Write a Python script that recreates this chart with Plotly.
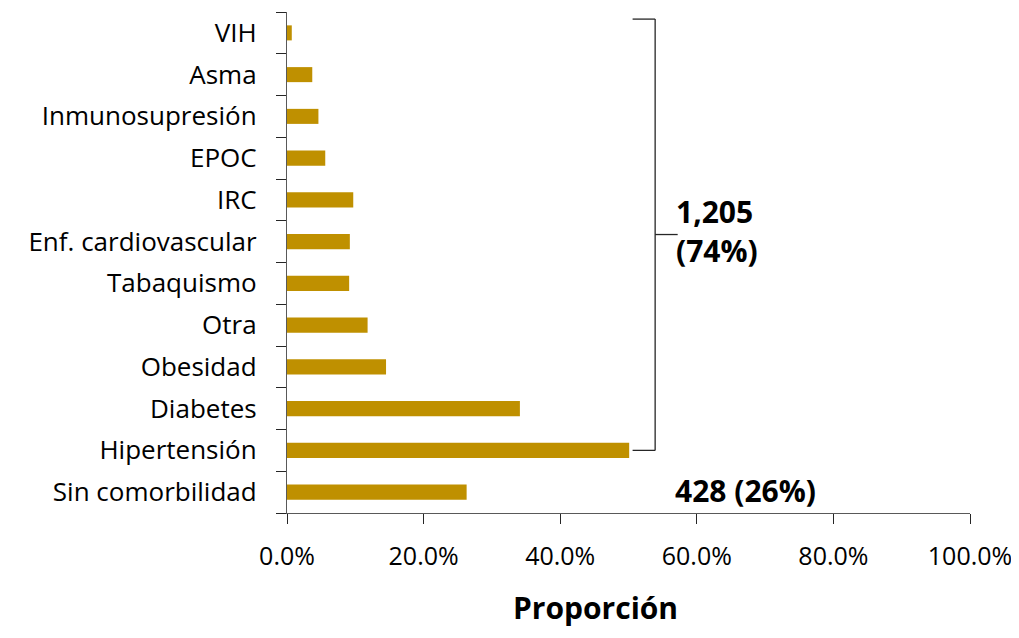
import plotly.graph_objects as go

# Comorbilidades (de abajo hacia arriba)
categorias = [
    "Sin comorbilidad", "Hipertensión", "Diabetes", "Obesidad", "Otra",
    "Tabaquismo", "Enf. cardiovascular", "IRC", "EPOC", "Inmunosupresión",
    "Asma", "VIH",
]
proporcion = [0.263, 0.501, 0.341, 0.145, 0.118, 0.091, 0.092, 0.097,
              0.056, 0.046, 0.037, 0.007]

texto_con = "1,205<br>(74%)"
texto_sin = "428 (26%)"

FUENTE = "'Open Sans', Lato, sans-serif"
DORADO = "#BF9000"

# la página tiene 8px de margen en el body
W, H = 1011, 622
ML, MR, MT, MB = 279, 49, 4, 117

fig = go.Figure()
fig.add_trace(go.Bar(
    y=categorias,
    x=proporcion,
    orientation="h",
    marker=dict(color=DORADO, line=dict(width=0)),
    width=0.36,
    hoverinfo="x+y",
))

# corchete que agrupa las comorbilidades
linea = dict(color="#262626", width=1.3)
fig.add_shape(type="line", xref="x", yref="y", x0=0.506, x1=0.539, y0=1, y1=1, line=linea)
fig.add_shape(type="line", xref="x", yref="y", x0=0.506, x1=0.539, y0=11.33, y1=11.33, line=linea)
fig.add_shape(type="line", xref="x", yref="y", x0=0.539, x1=0.539, y0=1, y1=11.33, line=linea)
fig.add_shape(type="line", xref="x", yref="y", x0=0.539, x1=0.572, y0=6.17, y1=6.17, line=linea)

fig.add_annotation(x=0.567, y=6.25, xref="x", yref="y", text=texto_con,
                   showarrow=False, xanchor="left", yanchor="middle", align="left",
                   font=dict(family=FUENTE, size=30, color="#000000", weight="bold"))
fig.add_annotation(x=0.565, y=0.05, xref="x", yref="y", text=texto_sin,
                   showarrow=False, xanchor="left", yanchor="middle",
                   font=dict(family=FUENTE, size=30, color="#000000", weight="bold"))

pw, ph = W - ML - MR, H - MT - MB
fig.add_annotation(x=(595 - 287) / pw, y=-MB / ph, xref="paper", yref="paper",
                   text="Proporción", showarrow=False, xanchor="center", yanchor="bottom",
                   font=dict(family=FUENTE, size=30, color="#000000", weight="bold"))

fig.update_layout(
    width=W, height=H,
    margin=dict(l=ML, r=MR, t=MT, b=MB),
    paper_bgcolor="white", plot_bgcolor="white",
    showlegend=False,
    font=dict(family=FUENTE, size=26, color="#000000"),
)

fig.update_xaxes(
    range=[0, 1], tickvals=[0, 0.2, 0.4, 0.6, 0.8, 1.0], tickformat=".1%",
    showgrid=False, zeroline=False,
    showline=True, linecolor="#595959", linewidth=1.3,
    ticks="outside", ticklen=10, tickcolor="#262626", tickwidth=1.3,
    tickfont=dict(family=FUENTE, size=25, color="#000000"),
    ticklabelstandoff=11,
)
fig.update_yaxes(
    type="category", categoryorder="array", categoryarray=categorias,
    range=[-0.5, 11.5],
    showgrid=False, zeroline=False,
    showline=True, linecolor="#595959", linewidth=1.3,
    ticks="outside", ticklen=10, tickcolor="#262626", tickwidth=1.3,
    tickson="boundaries",
    tickfont=dict(family=FUENTE, size=26, color="#000000"),
    ticklabelstandoff=24,
)

fig.write_html("out.html")
